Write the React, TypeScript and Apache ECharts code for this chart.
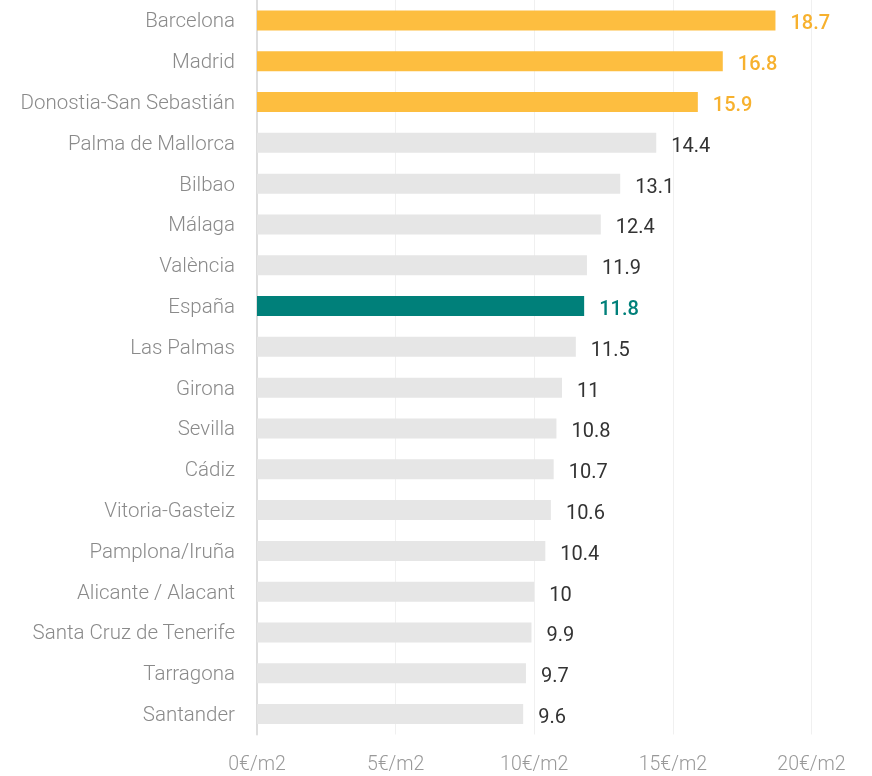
import React, { useEffect, useRef } from "react";
import * as echarts from "echarts";

const categories = [
  "Barcelona",
  "Madrid",
  "Donostia-San Sebastián",
  "Palma de Mallorca",
  "Bilbao",
  "Málaga",
  "València",
  "España",
  "Las Palmas",
  "Girona",
  "Sevilla",
  "Cádiz",
  "Vitoria-Gasteiz",
  "Pamplona/Iruña",
  "Alicante / Alacant",
  "Santa Cruz de Tenerife",
  "Tarragona",
  "Santander",
];
const values = [18.7, 16.8, 15.9, 14.4, 13.1, 12.4, 11.9, 11.8, 11.5, 11, 10.8, 10.7, 10.6, 10.4, 10, 9.9, 9.7, 9.6];
const highlighted = ["Barcelona", "Madrid", "Donostia-San Sebastián"];
const reference = "España";

const GOLD = "#FDBE40";
const GOLD_TEXT = "#F7B12E";
const TEAL = "#00807A";
const GRAY = "#E6E6E6";
const FONT = "Roboto";

export default function App() {
  const ref = useRef<HTMLDivElement>(null);
  useEffect(() => {
    if (!ref.current) return;
    const chart = echarts.init(ref.current, null, { renderer: "svg" });
    const data = values.map((v, i) => {
      const c = categories[i];
      const isHi = highlighted.includes(c);
      const isRef = c === reference;
      const color = isHi ? GOLD : isRef ? TEAL : GRAY;
      const textColor = isHi ? GOLD_TEXT : isRef ? TEAL : "#333333";
      return {
        value: v,
        itemStyle: { color },
        label: {
          color: textColor,
          fontWeight: isHi || isRef ? 500 : 400,
        },
      };
    });
    chart.setOption({
      animation: false,
      grid: { left: 257, right: 60.5, top: -2, bottom: 41.5, containLabel: false },
      xAxis: {
        type: "value",
        min: 0,
        max: 20,
        interval: 5,
        axisLine: { show: false },
        axisTick: { show: false },
        splitLine: { lineStyle: { color: "#F0F0F0", width: 1 } },
        axisLabel: {
          formatter: (v: number) => `${v}€/m2`,
          color: "#999999",
          fontFamily: FONT,
          fontWeight: 300,
          fontSize: 19.5,
          margin: 19,
        },
      },
      yAxis: {
        type: "category",
        data: categories,
        inverse: true,
        axisLine: { show: true, lineStyle: { color: "#DDDDDD", width: 2 } },
        axisTick: { show: false },
        axisLabel: {
          color: "#8A8A8A",
          fontFamily: FONT,
          fontWeight: 300,
          fontSize: 20.5,
          margin: 22,
        },
      },
      series: [
        {
          type: "bar",
          data,
          barWidth: 20,
          label: {
            show: true,
            position: "right",
            distance: 15,
            fontFamily: FONT,
            fontSize: 20,
            offset: [0, 2],
          },
        },
      ],
    });
    return () => chart.dispose();
  }, []);
  return <div ref={ref} style={{ position: "fixed", left: 0, top: 0, width: 872, height: 776 }} />;
}
